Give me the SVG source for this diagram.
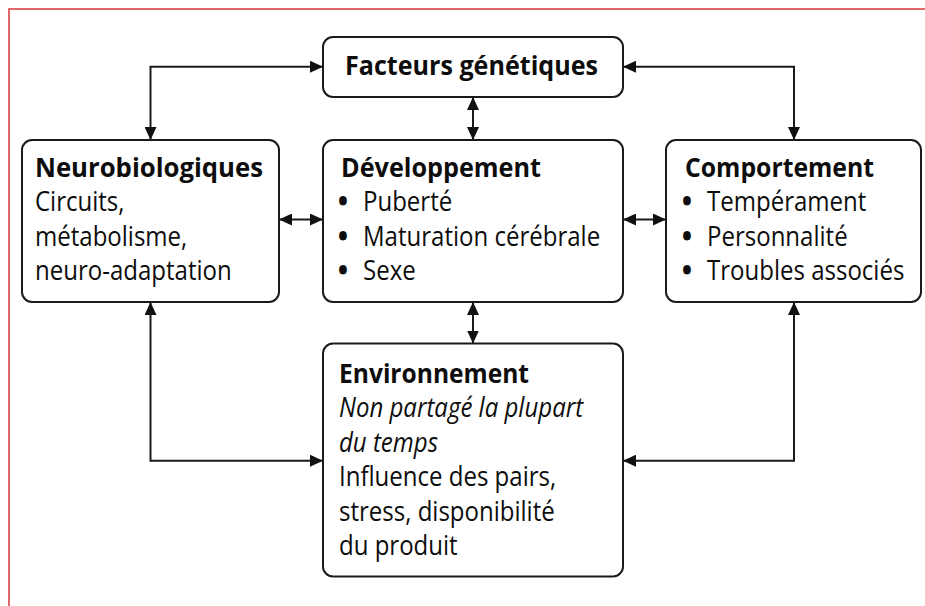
<svg xmlns="http://www.w3.org/2000/svg" width="925" height="606" viewBox="0 0 925 606">
<style>
  .box { fill: #ffffff; stroke: #1a1a1a; stroke-width: 2; }
  .t { font-family: "Open Sans", "Noto Sans", "Liberation Sans", sans-serif; font-size: 27px; fill: #0d0d0d; }
  .b { font-weight: bold; }
  .i { font-style: italic; }
  .bul { font-weight: 800; }
  .conn { fill: none; stroke: #1a1a1a; stroke-width: 2; marker-start: url(#ah); marker-end: url(#ah); }
</style>
<defs>
  <marker id="ah" viewBox="0 0 13 12" refX="13" refY="6" markerWidth="13" markerHeight="12" markerUnits="userSpaceOnUse" orient="auto-start-reverse">
    <path d="M0,0 L13,6 L0,12 Z" fill="#111111"/>
  </marker>
</defs>
<rect width="925" height="606" fill="#ffffff"/>
<path d="M9,606 V9 H925" fill="none" stroke="#d9343a" stroke-width="1.5"/>

<g id="connectors">
  <path class="conn" d="M150.5,140 V66.7 H323"/>
  <path class="conn" d="M794,140 V66.7 H623"/>
  <path class="conn" d="M473,97 V140"/>
  <path class="conn" d="M279,219.5 H323"/>
  <path class="conn" d="M623,219.5 H666"/>
  <path class="conn" d="M473,302 V343.5"/>
  <path class="conn" d="M150.5,302 V460.7 H323"/>
  <path class="conn" d="M794,302 V460.7 H623"/>
</g>

<g id="facteurs">
  <rect class="box" x="323" y="37" width="300" height="60" rx="10"/>
  <text class="t b" x="345" y="75" font-size="29" textLength="253" lengthAdjust="spacingAndGlyphs">Facteurs génétiques</text>
</g>

<g id="neurobiologiques">
  <rect class="box" x="22" y="140" width="257" height="162" rx="10"/>
  <text class="t b" x="35" y="177" textLength="228" lengthAdjust="spacingAndGlyphs">Neurobiologiques</text>
  <g transform="scale(0.89,1)">
    <text class="t" x="39.33" y="211.5">Circuits,</text>
    <text class="t" x="39.33" y="246">métabolisme,</text>
    <text class="t" x="39.33" y="280.5">neuro-adaptation</text>
  </g>
</g>

<g id="developpement">
  <rect class="box" x="323" y="140" width="300" height="162" rx="10"/>
  <text class="t b" x="341" y="177" textLength="200" lengthAdjust="spacingAndGlyphs">Développement</text>
  <g transform="scale(0.89,1)">
    <text class="t" y="211.5"><tspan class="bul" x="380">•</tspan><tspan x="407.87">Puberté</tspan></text>
    <text class="t" y="246"><tspan class="bul" x="380">•</tspan><tspan x="407.87">Maturation cérébrale</tspan></text>
    <text class="t" y="280.5"><tspan class="bul" x="380">•</tspan><tspan x="407.87">Sexe</tspan></text>
  </g>
</g>

<g id="comportement">
  <rect class="box" x="666" y="140" width="255" height="162" rx="10"/>
  <text class="t b" x="685" y="177" textLength="189" lengthAdjust="spacingAndGlyphs">Comportement</text>
  <g transform="scale(0.89,1)">
    <text class="t" y="211.5"><tspan class="bul" x="766.5">•</tspan><tspan x="794.38">Tempérament</tspan></text>
    <text class="t" y="246"><tspan class="bul" x="766.5">•</tspan><tspan x="794.38">Personnalité</tspan></text>
    <text class="t" y="280.5"><tspan class="bul" x="766.5">•</tspan><tspan x="794.38">Troubles associés</tspan></text>
  </g>
</g>

<g id="environnement">
  <rect class="box" x="323" y="343.5" width="300" height="233" rx="10"/>
  <text class="t b" x="339" y="383" textLength="190" lengthAdjust="spacingAndGlyphs">Environnement</text>
  <g transform="scale(0.89,1)">
    <text class="t i" x="380.9" y="417.5">Non partagé la plupart</text>
    <text class="t i" x="380.9" y="452">du temps</text>
    <text class="t" x="380.9" y="486.5">Influence des pairs,</text>
    <text class="t" x="380.9" y="521">stress, disponibilité</text>
    <text class="t" x="380.9" y="555.5">du produit</text>
  </g>
</g>
</svg>
